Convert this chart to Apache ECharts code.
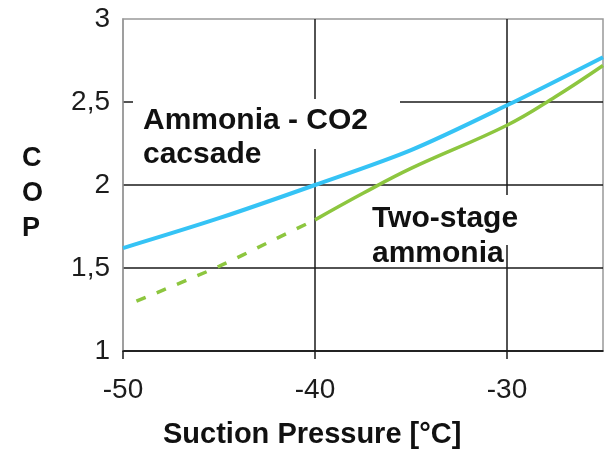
<!DOCTYPE html>
<html>
<head>
<meta charset="utf-8">
<script src="https://cdn.jsdelivr.net/npm/echarts@6/dist/echarts.min.js"></script>
<style>
  html, body { margin: 0; padding: 0; background: #fff; }
  #chart { width: 607px; height: 459px; }
</style>
</head>
<body>
<div id="chart"></div>
<script>
// data
var xTicks = [-50, -40, -30];
var cascadeData = [[-50, 1.62], [-45, 1.80], [-40, 2.0], [-35, 2.21], [-30, 2.48], [-25, 2.77]];
var twoStageData = [[-40, 1.79], [-37.5, 1.95], [-35, 2.10], [-30, 2.36], [-27.5, 2.53], [-25, 2.72]];
var twoStageDashed = [[-49.3, 1.30], [-45, 1.51], [-42.5, 1.65], [-40, 1.79]];

var font = "'Liberation Sans', Arial, sans-serif";
var gridColor = '#1a1a1a';

var myChart = echarts.init(document.getElementById('chart'));
var option = {
    backgroundColor: '#fff',
    animation: false,
    grid: {
        left: 123, right: 4, top: 19, bottom: 108,
        show: true,
        borderColor: '#999',
        borderWidth: 1.5
    },
    xAxis: {
        type: 'value',
        min: -50, max: -25, interval: 10,
        axisLine: { lineStyle: { color: gridColor, width: 1.5 } },
        axisTick: { show: true, length: 8, customValues: xTicks, lineStyle: { color: gridColor, width: 1.5 } },
        axisLabel: {
            customValues: xTicks,
            margin: 25,
            fontFamily: font, fontSize: 28, color: '#1c1c1c'
        },
        splitLine: { show: true, showMinLine: false, lineStyle: { color: gridColor, width: 1.5 } }
    },
    yAxis: {
        type: 'value',
        min: 1, max: 3, interval: 0.5,
        axisLine: { show: true, lineStyle: { color: '#999', width: 1.5 } },
        axisTick: { show: false },
        axisLabel: {
            margin: 13,
            fontFamily: font, fontSize: 28, color: '#1c1c1c',
            formatter: function (v) { return String(v).replace('.', ','); }
        },
        splitLine: { show: true, showMaxLine: false, lineStyle: { color: gridColor, width: 1.5 } }
    },
    graphic: [
        // white label boxes covering grid lines
        { type: 'rect', z: 1, shape: { x: 133, y: 99, width: 267, height: 50 }, style: { fill: '#fff' } },
        { type: 'rect', z: 1, shape: { x: 362, y: 195, width: 152, height: 50 }, style: { fill: '#fff' } },
        {
            type: 'text', z: 5, left: 143, top: 104,
            style: { text: 'Ammonia - CO2\ncacsade', font: 'bold 30px ' + font, lineHeight: 34, fill: '#111' }
        },
        {
            type: 'text', z: 5, left: 372, top: 201,
            style: { text: 'Two-stage\nammonia', font: 'bold 30px ' + font, lineHeight: 35, fill: '#111' }
        },
        {
            type: 'text', z: 5, left: 22, top: 141,
            style: { text: 'C\nO\nP', font: 'bold 27px ' + font, lineHeight: 35, fill: '#111', align: 'center' }
        },
        {
            type: 'text', z: 5, left: 163, top: 420,
            style: { text: 'Suction Pressure [°C]', font: 'bold 29px ' + font, fill: '#111' }
        }
    ],
    series: [
        {
            name: 'Ammonia - CO2 cascade',
            type: 'line',
            data: cascadeData,
            smooth: 0.3,
            symbol: 'none',
            lineStyle: { color: '#35c3f5', width: 4 }
        },
        {
            name: 'Two-stage ammonia',
            type: 'line',
            data: twoStageData,
            smooth: 0.4,
            symbol: 'none',
            lineStyle: { color: '#8dc63f', width: 3.5 }
        },
        {
            name: 'Two-stage ammonia (extrapolated)',
            type: 'line',
            data: twoStageDashed,
            smooth: 0.3,
            symbol: 'none',
            lineStyle: { color: '#8dc63f', width: 3.5, type: [10, 12] }
        }
    ]
};
myChart.setOption(option);
</script>
</body>
</html>
